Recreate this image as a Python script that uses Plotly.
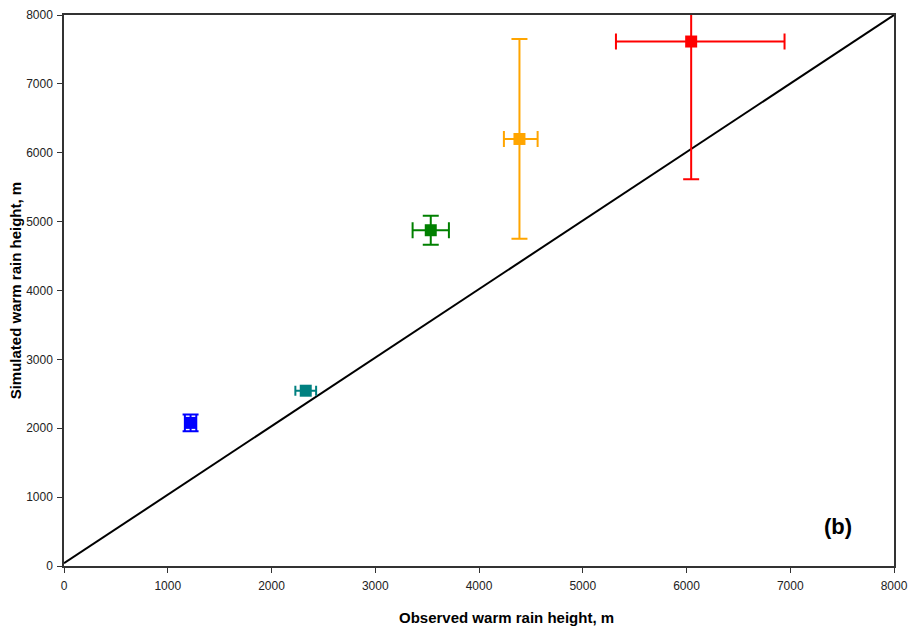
import plotly.graph_objects as go

obs = [1220, 2330, 3535, 4390, 6045]
sim = [2078, 2545, 4875, 6200, 7615]
obs_err_plus = [55, 100, 175, 175, 900]
obs_err_minus = [55, 100, 175, 150, 725]
sim_err = [120, 30, 210, 1450, 2000]
colors = ["#0000FF", "#008080", "#008000", "#FFA500", "#FF0000"]
cap_w = [8, 5, 8, 8, 8]
line_x = [0, 8000]
line_y = [40, 8000]

fig = go.Figure()
fig.add_trace(go.Scatter(x=line_x, y=line_y, mode="lines",
                         line=dict(color="black", width=2), showlegend=False,
                         hoverinfo="skip"))
for i in range(len(obs)):
    fig.add_trace(go.Scatter(
        x=[obs[i]], y=[sim[i]], mode="markers",
        marker=dict(symbol="square", size=12, color=colors[i]),
        error_x=dict(type="data", symmetric=False, array=[obs_err_plus[i]],
                     arrayminus=[obs_err_minus[i]], color=colors[i], thickness=2, width=cap_w[i]),
        error_y=dict(type="data", array=[sim_err[i]], color=colors[i], thickness=2, width=cap_w[i]),
        showlegend=False, cliponaxis=True))

axis_common = dict(range=[0, 8000], dtick=1000, showgrid=False, zeroline=False,
                   showline=True, linecolor="#333333", linewidth=1.5, mirror=True,
                   ticks="outside", ticklen=5, tickcolor="#333333", automargin=False,
                   tickfont=dict(family="Liberation Sans, Arial", size=12, color="#222222"))
fig.update_xaxes(**axis_common, ticklabelstandoff=3)
fig.update_yaxes(**axis_common, ticklabelstandoff=2)
tf = dict(family="Liberation Sans, Arial", size=15, color="black")
fig.add_annotation(x=0.533, y=-0.074, xref="paper", yref="paper", yanchor="top",
                   text="<b>Observed warm rain height, m</b>", showarrow=False, font=tf)
fig.add_annotation(x=-0.058, y=0.5, xref="paper", yref="paper", xanchor="center",
                   text="<b>Simulated warm rain height, m</b>", showarrow=False, font=tf,
                   textangle=-90)
fig.add_annotation(x=0.932, y=0.072, xref="paper", yref="paper", text="<b>(b)</b>",
                   xanchor="center", yanchor="middle",
                   showarrow=False, font=dict(family="Liberation Sans, Arial", size=22, color="black"))
fig.update_layout(width=909, height=627, plot_bgcolor="white", paper_bgcolor="white",
                  margin=dict(l=64, r=15, t=15, b=61))
fig.write_html("out.html")
